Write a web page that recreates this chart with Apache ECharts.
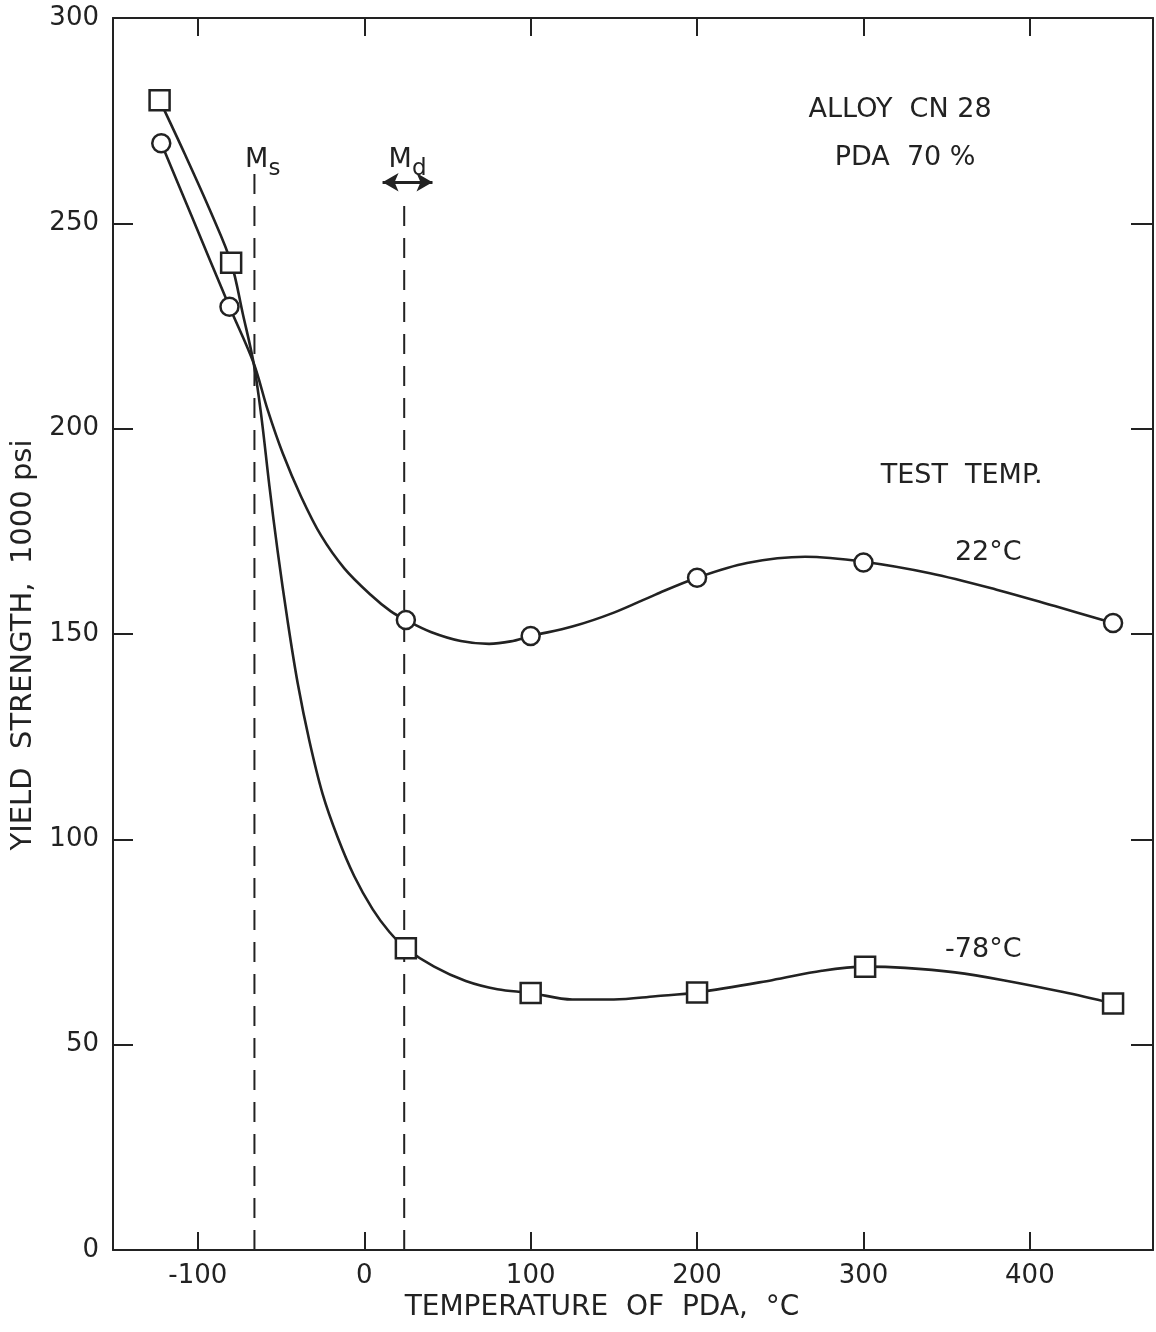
<!DOCTYPE html>
<html>
<head>
<meta charset="utf-8">
<script src="https://cdn.jsdelivr.net/npm/echarts@6/dist/echarts.min.js"></script>
<style>
  html, body { margin: 0; padding: 0; background: #fff; }
  #main { width: 1156px; height: 1332px; }
</style>
</head>
<body>
<div id="main"></div>
<script>
// tick values on the x axis (the axis itself runs a little wider)
const xTicks = [-100, 0, 100, 200, 300, 400]

// measured points, test temperature 22 C (circles)
const points22 = [[-122, 269.5], [-81, 229.7], [25, 153.4], [100, 149.5], [200, 163.7], [300, 167.4], [450, 152.7]]
// measured points, test temperature -78 C (squares)
const points78 = [[-123, 280], [-80, 240.4], [25, 73.5], [100, 62.6], [200, 62.7], [301, 69], [450, 60]]

// faired curves as drawn on the figure
const curve22 = [
  [-122, 269.5], [-104, 252], [-81, 229.7], [-66.5, 216], [-58, 204.5], [-49, 194], [-38, 183.5],
  [-26, 174], [-12, 166], [4, 159.5], [16, 155.5], [25, 153.4], [40, 150.5], [58, 148.3],
  [75, 147.6], [88, 148.2], [100, 149.5], [125, 151.8], [150, 155.2], [175, 159.6], [200, 163.7],
  [230, 167.3], [265, 168.8], [300, 167.6], [340, 164.8], [380, 160.8], [415, 156.8], [450, 152.7]
]
const curve78 = [
  [-123, 280], [-108, 267], [-92, 252.5], [-80, 240.4], [-73, 228], [-66.5, 216], [-62, 203.5],
  [-57, 186], [-52, 170], [-46, 153], [-40, 138], [-33, 124], [-25, 111], [-16, 100.5], [-6, 91],
  [5, 83], [15, 77.5], [25, 73.5], [42, 69], [61, 65.5], [80, 63.5], [100, 62.6], [125, 61],
  [150, 61], [175, 61.8], [200, 62.7], [245, 65.7], [275, 68], [301, 69], [325, 68.7],
  [355, 67.6], [384, 65.7], [420, 62.8], [450, 60]
]

// Ms and Md temperatures (dashed verticals) and how high they are drawn
const msLine = [[-66, 0], [-66, 262]]
const mdLine = [[24, 0], [24, 256]]
const mdArrow = [[11, 260], [41, 260]]

// text notes placed in data coordinates
const notes = [
  {text: "ALLOY  CN 28", at: [322, 277.6]},
  {text: "PDA  70 %", at: [325, 265.9]},
  {text: "TEST  TEMP.", at: [359, 188.5]},
  {text: "22°C", at: [375, 169.7]},
  {text: "-78°C", at: [372, 73]},
  {text: "{m|M}{s|s}", at: [-61, 265.4]},
  {text: "{m|M}{s|d}", at: [26, 265.4]}
]

const ink = "#222"
const font = "DejaVu Sans"

const chart = echarts.init(document.getElementById("main"))

const option = {
  backgroundColor: "#fff",
  animation: false,
  grid: {left: 113, right: 3, top: 18, bottom: 82},
  xAxis: [
    {
      type: "value",
      min: -151,
      max: 474,
      name: "TEMPERATURE  OF  PDA,  °C",
      nameLocation: "middle",
      nameGap: 44,
      nameTextStyle: {fontFamily: font, fontSize: 28, color: ink, padding: [0, 62, 0, 0]},
      axisLine: {onZero: false, lineStyle: {color: ink, width: 2}},
      axisTick: {inside: true, length: 18, customValues: xTicks, lineStyle: {color: ink, width: 2}},
      axisLabel: {customValues: xTicks, fontFamily: font, fontSize: 26, color: ink, margin: 13},
      splitLine: {show: false}
    },
    {
      type: "value",
      position: "top",
      min: -151,
      max: 474,
      axisLine: {show: true, onZero: false, lineStyle: {color: ink, width: 2}},
      axisTick: {show: true, inside: true, length: 18, customValues: xTicks, lineStyle: {color: ink, width: 2}},
      axisLabel: {show: false},
      splitLine: {show: false}
    }
  ],
  yAxis: [
    {
      type: "value",
      min: 0,
      max: 300,
      interval: 50,
      name: "YIELD  STRENGTH,  1000 psi",
      nameLocation: "middle",
      nameRotate: 90,
      nameGap: 75,
      nameTextStyle: {fontFamily: font, fontSize: 29, color: ink, padding: [0, 22, 0, 0]},
      axisLine: {show: true, onZero: false, lineStyle: {color: ink, width: 2}},
      axisTick: {show: true, inside: true, length: 20, lineStyle: {color: ink, width: 2}},
      axisLabel: {fontFamily: font, fontSize: 26, color: ink, margin: 14},
      splitLine: {show: false}
    },
    {
      type: "value",
      position: "right",
      min: 0,
      max: 300,
      interval: 50,
      axisLine: {show: true, onZero: false, lineStyle: {color: ink, width: 2}},
      axisTick: {show: true, inside: true, length: 22, lineStyle: {color: ink, width: 2}},
      axisLabel: {show: false},
      splitLine: {show: false}
    }
  ],
  series: [
    {
      name: "curve22",
      type: "line",
      data: curve22,
      smooth: 0.35,
      symbol: "none",
      lineStyle: {color: ink, width: 2.6},
      z: 3
    },
    {
      name: "curve78",
      type: "line",
      data: curve78,
      smooth: 0.35,
      symbol: "none",
      lineStyle: {color: ink, width: 2.6},
      z: 3
    },
    {
      name: "Ms",
      type: "line",
      data: msLine,
      symbol: "none",
      lineStyle: {color: ink, width: 2, type: [20, 12]},
      z: 2
    },
    {
      name: "Md",
      type: "line",
      data: mdLine,
      symbol: "none",
      lineStyle: {color: ink, width: 2, type: [20, 12]},
      z: 2,
      markLine: {
        silent: true,
        symbol: ["arrow", "arrow"],
        symbolSize: [14, 16],
        label: {show: false},
        lineStyle: {color: ink, width: 3, type: "solid"},
        data: [[{coord: mdArrow[0]}, {coord: mdArrow[1]}]]
      }
    },
    {
      name: "22 C",
      type: "scatter",
      data: points22,
      symbol: "circle",
      symbolSize: 18,
      itemStyle: {color: "#fff", borderColor: ink, borderWidth: 2.5, opacity: 1},
      z: 5
    },
    {
      name: "-78 C",
      type: "scatter",
      data: points78,
      symbol: "rect",
      symbolSize: 20,
      itemStyle: {color: "#fff", borderColor: ink, borderWidth: 2.5, opacity: 1},
      z: 5
    },
    {
      name: "notes",
      type: "scatter",
      symbolSize: 0,
      silent: true,
      itemStyle: {opacity: 1},
      data: notes.map(n => ({
        value: n.at,
        label: {
          show: true,
          position: "inside",
          formatter: n.text,
          fontFamily: font,
          fontSize: 27,
          color: ink,
          rich: {
            m: {fontFamily: font, fontSize: 27, color: ink},
            s: {fontFamily: font, fontSize: 23, color: ink, padding: [18, 0, 0, 0]}
          }
        }
      })),
      z: 6
    }
  ]
}

chart.setOption(option)
</script>
</body>
</html>
